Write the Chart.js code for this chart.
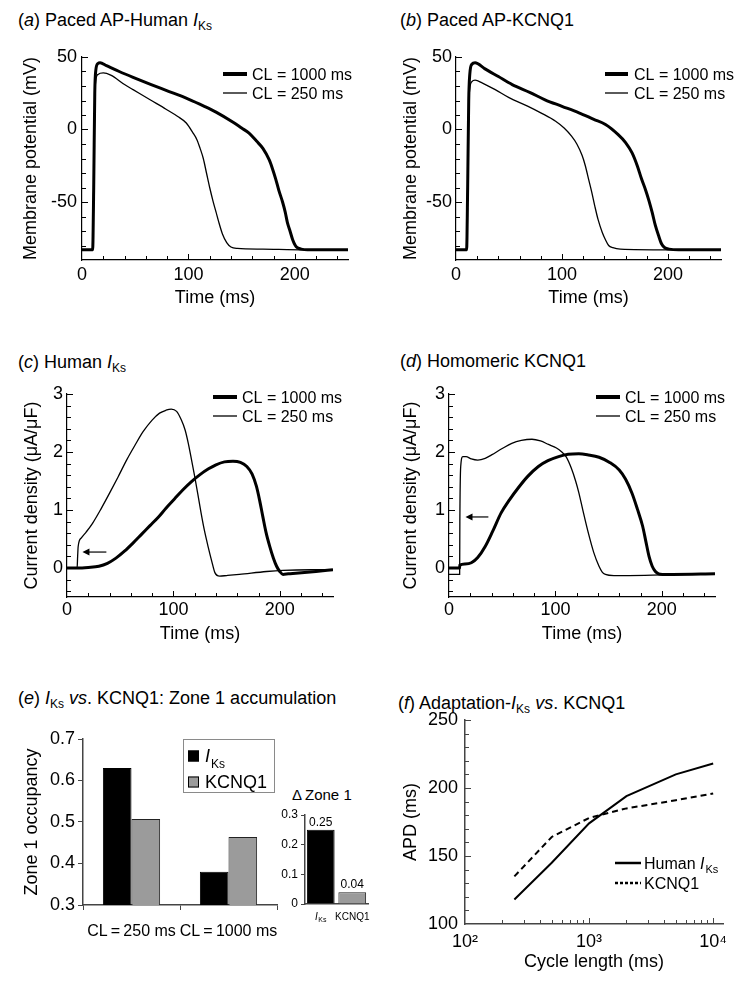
<!DOCTYPE html>
<html>
<head>
<meta charset="utf-8">
<script src="https://cdn.jsdelivr.net/npm/chart.js@4.4.1/dist/chart.umd.min.js"></script>
<style>
body { margin: 0; background: #fff; }
#fig { position: relative; width: 756px; height: 983px; overflow: hidden; background: #fff;
       font-family: 'Liberation Sans', Arial, sans-serif; color: #000; }
#fig canvas { position: absolute; }
.ttl { position: absolute; font-size: 18px; line-height: 18px; white-space: nowrap; }
.ttl .sb { font-size: 12px; position: relative; top: 4px; }
</style>
</head>
<body>
<div id="fig">
  <div class="ttl" style="left:18px;top:11px">(<i>a</i>) Paced AP-Human <i>I</i><span class="sb">Ks</span></div>
  <div class="ttl" style="left:400px;top:11px">(<i>b</i>) Paced AP-KCNQ1</div>
  <div class="ttl" style="left:18px;top:353px">(<i>c</i>) Human <i>I</i><span class="sb">Ks</span></div>
  <div class="ttl" style="left:400px;top:352px">(<i>d</i>) Homomeric KCNQ1</div>
  <div class="ttl" style="left:18px;top:689px">(<i>e</i>) <i>I</i><span class="sb">Ks</span> <i>vs</i>. KCNQ1: Zone 1 accumulation</div>
  <div class="ttl" style="left:398px;top:694px">(<i>f</i>) Adaptation-<i>I</i><span class="sb">Ks</span> <i>vs</i>. KCNQ1</div>
  <div class="ttl" style="left:292px;top:787px;font-size:15px;line-height:15px">&Delta;&thinsp;Zone 1</div>

  <canvas id="cA" width="378" height="280" style="left:0;top:40px"></canvas>
  <canvas id="cB" width="378" height="280" style="left:378px;top:40px"></canvas>
  <canvas id="cC" width="378" height="280" style="left:0;top:370px"></canvas>
  <canvas id="cD" width="378" height="280" style="left:378px;top:370px"></canvas>
  <canvas id="cE" width="290" height="240" style="left:0;top:720px"></canvas>
  <canvas id="cE2" width="103" height="150" style="left:275px;top:790px"></canvas>
  <canvas id="cF" width="378" height="283" style="left:378px;top:700px"></canvas>
</div>
<script>
// ---- data ----
let clLabels = ['CL = 1000 ms', 'CL = 250 ms'];

// (a) paced AP, human IKs model
let apHumanT1000 = [0, 10, 11, 12, 13, 15, 17, 23, 35, 48, 65, 79, 100, 115, 126, 142, 150, 157, 164, 170, 176, 179, 182, 185, 188.5, 191, 193, 195.5, 198, 200.5, 202.5, 206, 212, 230, 250];
let apHumanV1000 = [-83, -83, -40, 25, 41, 45.5, 46, 44, 40, 36, 31, 27, 21, 16, 12, 5, 1, -2.5, -8, -13, -21, -27, -34, -42, -50, -57, -64, -70, -76, -80, -81.5, -82.5, -83, -83, -83];
let apHumanT250 = [0, 10, 11, 12, 13, 15, 20, 27, 40, 48, 64, 79, 90, 98, 104, 108, 111, 114, 117, 120, 123, 126, 129, 132, 136, 140, 146, 170, 210, 250];
let apHumanV250 = [-83, -83, -40, 20, 34, 38, 39, 37.5, 31, 27.5, 20.5, 14, 9, 4.5, -2, -7, -13, -20, -30, -40, -49, -57, -65, -72, -78, -81, -82, -82.5, -83, -83];

// (b) paced AP, KCNQ1 model
let apKcnqT1000 = [0, 10, 11, 12, 13, 15, 18, 27, 40, 53, 70, 84, 100, 116, 130, 141, 153, 160, 166, 171, 175, 179, 182, 185, 188, 191, 194, 197, 201, 210, 250];
let apKcnqV1000 = [-83, -83, -40, 20, 38, 45, 46, 42, 36.5, 31, 25.5, 20.5, 16, 11.5, 7, 3.5, -3.5, -9, -16, -25, -34, -42, -49, -57, -66, -73, -79, -81.5, -82.5, -83, -83];
let apKcnqT250 = [0, 10, 11, 12, 13, 15, 18, 25, 37, 50, 68, 80, 94, 102, 109, 114, 119, 122, 125, 128, 131, 134, 138, 141, 144, 148, 155, 200, 250];
let apKcnqV250 = [-83, -83, -40, 15, 28, 33, 34, 32, 27.5, 22, 16, 11.5, 5.7, 1, -4.6, -10, -18, -25, -34, -43, -53, -62, -71, -76, -80, -81.5, -82.5, -83, -83];

// (c) human IKs current
let iksT1000 = [0, 10, 20, 30, 38, 46, 54, 62, 70, 78, 86, 93, 101, 109, 117, 125, 133, 140, 148, 156, 163, 169, 174, 178, 181, 184, 187, 190.6, 194, 197, 200, 203, 208, 215, 234, 250];
let iksV1000 = [0, 0, 0.01, 0.03, 0.08, 0.17, 0.29, 0.43, 0.58, 0.73, 0.88, 1.03, 1.19, 1.35, 1.49, 1.61, 1.71, 1.78, 1.83, 1.84, 1.82, 1.75, 1.62, 1.41, 1.17, 0.89, 0.62, 0.37, 0.17, 0.03, -0.06, -0.11, -0.10, -0.09, -0.06, -0.03];
let iksT250 = [0, 9.5, 10, 10.5, 13.5, 18, 24, 32, 40, 48, 56, 64, 71.5, 80, 87, 93, 98, 103, 107.5, 111, 114, 117, 120, 123, 126, 129, 132.6, 136, 139, 143.5, 150, 162, 187.5, 203, 230, 250];
let iksV250 = [0, 0, 0.2, 0.37, 0.52, 0.62, 0.77, 1.02, 1.29, 1.57, 1.86, 2.12, 2.35, 2.55, 2.67, 2.72, 2.74, 2.70, 2.55, 2.38, 2.15, 1.87, 1.58, 1.27, 0.95, 0.66, 0.37, 0.12, -0.08, -0.14, -0.13, -0.11, -0.06, -0.04, -0.03, -0.03];

// (d) homomeric KCNQ1 current
let kcnqT1000 = [0, 10, 10.2, 15, 21, 27, 34, 41, 49, 57, 65, 74, 84, 93, 103, 112, 122, 131, 141, 151, 160, 166, 172, 177, 182, 185, 188, 191, 194, 197, 200.6, 210, 250];
let kcnqV1000 = [0, 0, 0.05, 0.07, 0.09, 0.18, 0.37, 0.63, 0.95, 1.18, 1.38, 1.58, 1.75, 1.85, 1.92, 1.96, 1.97, 1.95, 1.91, 1.82, 1.69, 1.53, 1.29, 1.02, 0.72, 0.46, 0.2, 0.03, -0.06, -0.1, -0.11, -0.11, -0.1];
let kcnqT250 = [0, 10, 10.2, 11, 13, 16, 21, 27, 34, 40, 50, 59, 68, 78, 86, 93.5, 101, 106, 110, 115, 119, 122, 126, 131, 136, 141, 144, 147, 155, 169, 200, 250];
let kcnqV250 = [-0.11, -0.11, 0.8, 1.75, 1.92, 1.92, 1.88, 1.86, 1.89, 1.95, 2.06, 2.15, 2.2, 2.22, 2.19, 2.13, 2.07, 2.0, 1.92, 1.72, 1.5, 1.3, 0.98, 0.6, 0.27, 0.03, -0.07, -0.11, -0.13, -0.13, -0.12, -0.1];

// (e) zone 1 occupancy
let zoneCategories = ['CL\u2009=\u2009250 ms', 'CL\u2009=\u20091000 ms'];
let zoneIks = [0.63, 0.38];
let zoneKcnq1 = [0.507, 0.464];
let deltaCategories = ['IKs', 'KCNQ1'];
let deltaZone = [0.25, 0.04];

// (f) APD adaptation
let cycleLengths = [250, 500, 1000, 2000, 5000, 10000];
let apdHuman = [118, 145, 174, 194, 210, 218];
let apdKcnq1 = [135, 164, 178, 185, 191, 196];

// ---- helpers ----
let FONT = "'Liberation Sans', Arial, sans-serif";
Chart.defaults.font.family = FONT;
Chart.defaults.font.size = 18;
Chart.defaults.color = '#000';

function zip(t, v) {
    return t.map((x, i) => ({ x: x, y: v[i] }));
}

// text with "IKs" drawn as italic I + subscript Ks
function drawRich(ctx, text, x, y, size, align) {
    let parts = [];
    text.split(/(IKs)/).forEach(p => {
        if (p === 'IKs') {
            parts.push({ t: 'I', f: 'italic ' + size + 'px ' + FONT, dy: 0, extra: size * 0.06 });
            parts.push({ t: 'Ks', f: Math.round(size * 0.68) + 'px ' + FONT, dy: size * 0.28, extra: 0 });
        } else if (p) {
            parts.push({ t: p, f: size + 'px ' + FONT, dy: 0, extra: 0 });
        }
    });
    let w = 0;
    parts.forEach(p => { ctx.font = p.f; p.w = ctx.measureText(p.t).width + p.extra; w += p.w; });
    let cx = align === 'center' ? x - w / 2 : x;
    ctx.save();
    ctx.fillStyle = '#000';
    ctx.textAlign = 'left';
    ctx.textBaseline = 'alphabetic';
    let base = y + size * 0.36;
    parts.forEach(p => { ctx.font = p.f; ctx.fillText(p.t, cx, base + p.dy); cx += p.w; });
    ctx.restore();
}

// short tick marks pointing into the plot
let innerTicks = {
    id: 'innerTicks',
    afterDraw(chart, args, o) {
        let ctx = chart.ctx, area = chart.chartArea;
        ctx.save();
        ctx.strokeStyle = o.color || '#000';
        ctx.lineWidth = 1;
        ['x', 'y'].forEach(key => {
            let a = o[key];
            if (!a) return;
            let s = chart.scales[key];
            let vals = [];
            if (a.values) vals = a.values.slice();
            else for (let v = a.from; v <= a.to + 1e-9; v += a.step) vals.push(Math.round(v * 1000) / 1000);
            vals.forEach(v => {
                let len = (a.majors || []).some(m => Math.abs(m - v) < 1e-9) ? 6 : 4;
                let p = Math.round(s.getPixelForValue(v)) + 0.5;
                ctx.beginPath();
                if (key === 'x') { ctx.moveTo(p, area.bottom); ctx.lineTo(p, area.bottom - len); }
                else { ctx.moveTo(area.left, p); ctx.lineTo(area.left + len, p); }
                ctx.stroke();
            });
        });
        ctx.restore();
    }
};

// line-sample legend
let lineLegend = {
    id: 'lineLegend',
    afterDraw(chart, args, o) {
        if (o.x === undefined) return;
        let ctx = chart.ctx;
        chart.data.datasets.forEach((ds, i) => {
            let y = o.y + i * o.rowH;
            ctx.save();
            ctx.strokeStyle = '#000';
            ctx.lineWidth = (o.widths && o.widths[i]) || ds.borderWidth;
            ctx.setLineDash((o.dashes && o.dashes[i]) || []);
            ctx.beginPath();
            ctx.moveTo(o.x, y);
            ctx.lineTo(o.x + o.len, y);
            ctx.stroke();
            ctx.restore();
            drawRich(ctx, ds.label, o.x + o.len + o.gap, y, o.size, 'left');
        });
    }
};

// small arrow annotation
let arrowMark = {
    id: 'arrowMark',
    afterDatasetsDraw(chart, args, o) {
        if (!o.from) return;
        let sx = chart.scales.x, sy = chart.scales.y, ctx = chart.ctx;
        let x1 = sx.getPixelForValue(o.from[0]), y1 = sy.getPixelForValue(o.from[1]);
        let x2 = sx.getPixelForValue(o.to[0]), y2 = sy.getPixelForValue(o.to[1]);
        ctx.save();
        ctx.strokeStyle = '#000';
        ctx.fillStyle = '#000';
        ctx.lineWidth = 1.2;
        ctx.beginPath(); ctx.moveTo(x1, y1); ctx.lineTo(x2 + 4, y2); ctx.stroke();
        ctx.beginPath(); ctx.moveTo(x2, y2); ctx.lineTo(x2 + 7, y2 - 3.5); ctx.lineTo(x2 + 7, y2 + 3.5); ctx.closePath(); ctx.fill();
        ctx.restore();
    }
};

// boxed legend with square swatches
let boxLegend = {
    id: 'boxLegend',
    afterDraw(chart, args, o) {
        if (o.x === undefined) return;
        let ctx = chart.ctx;
        ctx.save();
        ctx.strokeStyle = '#8a8a8a';
        ctx.lineWidth = 1;
        ctx.strokeRect(o.x + 0.5, o.y + 0.5, o.w, o.h);
        chart.data.datasets.forEach((ds, i) => {
            let cy = o.y + o.first + i * o.rowH;
            ctx.fillStyle = ds.backgroundColor;
            ctx.fillRect(o.x + o.sqX, cy - o.sq / 2, o.sq, o.sq);
            ctx.strokeStyle = '#000';
            ctx.strokeRect(o.x + o.sqX + 0.5, cy - o.sq / 2 + 0.5, o.sq - 1, o.sq - 1);
            drawRich(ctx, ds.label, o.x + o.textX, cy, o.size, 'left');
        });
        ctx.restore();
    }
};

// value labels over bars and rich category labels (inset)
let barNotes = {
    id: 'barNotes',
    afterDraw(chart, args, o) {
        if (!o.size) return;
        let ctx = chart.ctx, area = chart.chartArea, sx = chart.scales.x;
        let meta = chart.getDatasetMeta(0);
        ctx.save();
        ctx.fillStyle = '#000';
        ctx.font = o.size + 'px ' + FONT;
        ctx.textAlign = 'center';
        ctx.textBaseline = 'bottom';
        meta.data.forEach((bar, i) => {
            ctx.fillText(chart.data.datasets[0].data[i].toFixed(2), bar.x, bar.y - 1);
        });
        ctx.restore();
        chart.data.labels.forEach((lab, i) => {
            drawRich(ctx, lab, sx.getPixelForValue(i), area.bottom + o.labelGap, o.labelSize, 'center');
        });
    }
};

function fixX(h) {
    return s => { s.height = h; s.paddingLeft = 0; s.paddingRight = 0; };
}
function fixY(w) {
    return s => { s.width = w; s.paddingTop = 0; s.paddingBottom = 0; };
}
function setTicks(vals) {
    return s => { s.ticks = vals.map(v => ({ value: v })); };
}

// panels a-d share one layout
function traceChart(id, p) {
    let axisLine = { display: true, color: '#000', width: 1.2 };
    let noGrid = { drawOnChartArea: false, drawTicks: false };
    return new Chart(document.getElementById(id), {
        type: 'line',
        data: {
            datasets: [
                { label: clLabels[0], data: zip(p.t1, p.v1), borderColor: '#000', borderWidth: 3, pointRadius: 0, cubicInterpolationMode: 'monotone' },
                { label: clLabels[1], data: zip(p.t2, p.v2), borderColor: '#000', borderWidth: 1.3, pointRadius: 0, cubicInterpolationMode: 'monotone' }
            ]
        },
        options: {
            responsive: false, animation: false, devicePixelRatio: 1,
            layout: { padding: { top: p.top, right: p.right, left: 0, bottom: 0 } },
            plugins: {
                legend: { display: false }, tooltip: { enabled: false },
                lineLegend: { x: p.legX, y: p.legY, rowH: 19, len: p.legLen, gap: p.legGap, size: 16, widths: [4, 1.3] },
                innerTicks: { x: { from: 20, to: 240, step: 20, majors: [100, 200] }, y: p.minor },
                arrowMark: p.arrow || {}
            },
            scales: {
                x: {
                    type: 'linear', min: 0, max: 250,
                    afterBuildTicks: setTicks([0, 100, 200]),
                    ticks: { padding: p.xTickPad, maxRotation: 0 },
                    grid: noGrid, border: axisLine,
                    title: { display: true, text: 'Time (ms)', padding: { top: 0, bottom: p.xTitlePad } },
                    afterFit: fixX(p.xH)
                },
                y: {
                    type: 'linear', min: p.yMin, max: p.yMax,
                    afterBuildTicks: setTicks(p.yMajors),
                    ticks: { padding: p.yTickPad },
                    grid: noGrid, border: axisLine,
                    title: { display: true, text: p.yTitle, padding: { top: p.yTitlePad, bottom: 0 } },
                    afterFit: fixY(p.yW)
                }
            }
        },
        plugins: [innerTicks, lineLegend, arrowMark]
    });
}

let apMinor = { from: -80, to: 50, step: 10, majors: [-50, 0, 50] };
let curMinor = { from: -0.4, to: 3, step: 0.2, majors: [0, 1, 2, 3] };

traceChart('cA', {
    t1: apHumanT1000, v1: apHumanV1000, t2: apHumanT250, v2: apHumanV250,
    top: 17, right: 30, xH: 60, yW: 82, xTickPad: 4, xTitlePad: 11, yTickPad: 5, yTitlePad: 20,
    yMin: -90, yMax: 50, yMajors: [-50, 0, 50], minor: apMinor, yTitle: 'Membrane potential (mV)',
    legX: 223, legY: 34, legLen: 24, legGap: 5
});
traceChart('cB', {
    t1: apKcnqT1000, v1: apKcnqV1000, t2: apKcnqT250, v2: apKcnqV250,
    top: 17, right: 35, xH: 60, yW: 78, xTickPad: 4, xTitlePad: 11, yTickPad: 4, yTitlePad: 22,
    yMin: -90, yMax: 50, yMajors: [-50, 0, 50], minor: apMinor, yTitle: 'Membrane potential (mV)',
    legX: 227, legY: 34, legLen: 23, legGap: 6
});
traceChart('cC', {
    t1: iksT1000, v1: iksV1000, t2: iksT250, v2: iksV250,
    top: 24, right: 45, xH: 53, yW: 67, xTickPad: 2, xTitlePad: 5, yTickPad: 4, yTitlePad: 21,
    yMin: -0.5, yMax: 3, yMajors: [0, 1, 2, 3], minor: curMinor, yTitle: 'Current density (\u03bcA/\u03bcF)',
    legX: 213, legY: 27, legLen: 24, legGap: 5,
    arrow: { from: [37, 0.275], to: [14.5, 0.275] }
});
traceChart('cD', {
    t1: kcnqT1000, v1: kcnqV1000, t2: kcnqT250, v2: kcnqV250,
    top: 24, right: 41, xH: 53, yW: 71, xTickPad: 2, xTitlePad: 5, yTickPad: 4, yTitlePad: 22,
    yMin: -0.5, yMax: 3, yMajors: [0, 1, 2, 3], minor: curMinor, yTitle: 'Current density (\u03bcA/\u03bcF)',
    legX: 218, legY: 27, legLen: 24, legGap: 5,
    arrow: { from: [37, 0.88], to: [15.5, 0.88] }
});

// (e) grouped bars
new Chart(document.getElementById('cE'), {
    type: 'bar',
    data: {
        labels: zoneCategories,
        datasets: [
            { label: 'IKs', data: zoneIks, backgroundColor: '#000', borderColor: '#000', borderWidth: 1 },
            { label: 'KCNQ1', data: zoneKcnq1, backgroundColor: '#9b9b9b', borderColor: '#222', borderWidth: 1 }
        ]
    },
    options: {
        responsive: false, animation: false, devicePixelRatio: 1,
        datasets: { bar: { categoryPercentage: 0.59, barPercentage: 1 } },
        layout: { padding: { top: 19, right: 13, left: 0, bottom: 0 } },
        plugins: {
            legend: { display: false }, tooltip: { enabled: false },
            boxLegend: { x: 183, y: 19, w: 91, h: 53, sq: 11, sqX: 5, textX: 22, first: 17, rowH: 26, size: 18 }
        },
        scales: {
            x: {
                ticks: { font: { size: 16 }, padding: 12, maxRotation: 0, minRotation: 0, autoSkip: false },
                grid: { drawOnChartArea: false, tickLength: 5, color: '#444' },
                border: { color: '#444', width: 1.5 },
                afterFit: fixX(55)
            },
            y: {
                min: 0.3, max: 0.7,
                afterBuildTicks: setTicks([0.3, 0.4, 0.5, 0.6, 0.7]),
                ticks: { padding: 3 },
                grid: { drawOnChartArea: false, tickLength: 5, color: '#444' },
                border: { color: '#444', width: 1.5 },
                title: { display: true, text: 'Zone 1 occupancy', padding: { top: 21, bottom: 0 } },
                afterFit: fixY(83)
            }
        }
    },
    plugins: [boxLegend]
});

// (e) inset: change in zone 1
new Chart(document.getElementById('cE2'), {
    type: 'bar',
    data: {
        labels: deltaCategories,
        datasets: [
            { label: '\u0394Zone 1', data: deltaZone, backgroundColor: ['#000', '#9b9b9b'], borderColor: ['#000', '#222'], borderWidth: 1 }
        ]
    },
    options: {
        responsive: false, animation: false, devicePixelRatio: 1,
        datasets: { bar: { categoryPercentage: 0.88, barPercentage: 1 } },
        layout: { padding: { top: 25, right: 10, left: 0, bottom: 0 } },
        plugins: {
            legend: { display: false }, tooltip: { enabled: false },
            barNotes: { size: 12, labelSize: 10, labelGap: 12 }
        },
        scales: {
            x: {
                ticks: { display: false },
                grid: { drawOnChartArea: false, drawTicks: false },
                border: { color: '#444', width: 1.5 },
                afterFit: fixX(36)
            },
            y: {
                min: 0, max: 0.3,
                afterBuildTicks: setTicks([0, 0.1, 0.2, 0.3]),
                ticks: { font: { size: 12 }, padding: 3 },
                grid: { drawOnChartArea: false, tickLength: 4, color: '#444' },
                border: { color: '#444', width: 1.5 },
                afterFit: fixY(30)
            }
        }
    },
    plugins: [barNotes]
});

// (f) APD vs cycle length
let supLabels = { 100: '10\u00b2', 1000: '10\u00b3', 10000: '10\u2074' };
new Chart(document.getElementById('cF'), {
    type: 'line',
    data: {
        datasets: [
            { label: 'Human IKs', data: zip(cycleLengths, apdHuman), borderColor: '#000', borderWidth: 2, pointRadius: 0, tension: 0 },
            { label: 'KCNQ1', data: zip(cycleLengths, apdKcnq1), borderColor: '#000', borderWidth: 2, borderDash: [6, 4], pointRadius: 0, tension: 0 }
        ]
    },
    options: {
        responsive: false, animation: false, devicePixelRatio: 1,
        layout: { padding: { top: 20, right: 33, left: 0, bottom: 0 } },
        plugins: {
            legend: { display: false }, tooltip: { enabled: false },
            lineLegend: { x: 237, y: 163, rowH: 20, len: 26, gap: 3, size: 16, widths: [2.5, 2.5], dashes: [[], [3, 2]] },
            innerTicks: {
                color: '#444',
                x: { values: [200, 300, 400, 500, 600, 700, 800, 900, 1000, 2000, 3000, 4000, 5000, 6000, 7000, 8000, 9000, 10000], majors: [1000, 10000] },
                y: { from: 110, to: 250, step: 10, majors: [150, 200, 250] }
            }
        },
        scales: {
            x: {
                type: 'logarithmic', min: 100, max: 12000,
                afterBuildTicks: setTicks([100, 1000, 10000]),
                ticks: { padding: 7, maxRotation: 0, callback: v => supLabels[v] },
                grid: { drawOnChartArea: false, drawTicks: false },
                border: { color: '#444', width: 1.5 },
                title: { display: true, text: 'Cycle length (ms)', padding: { top: 0, bottom: 10 } },
                afterFit: fixX(59)
            },
            y: {
                type: 'linear', min: 100, max: 250,
                afterBuildTicks: setTicks([100, 150, 200, 250]),
                ticks: { padding: 7 },
                grid: { drawOnChartArea: false, drawTicks: false },
                border: { color: '#444', width: 1.5 },
                title: { display: true, text: 'APD (ms)', padding: { top: 22, bottom: 0 } },
                afterFit: fixY(87)
            }
        }
    },
    plugins: [innerTicks, lineLegend]
});
</script>
</body>
</html>
